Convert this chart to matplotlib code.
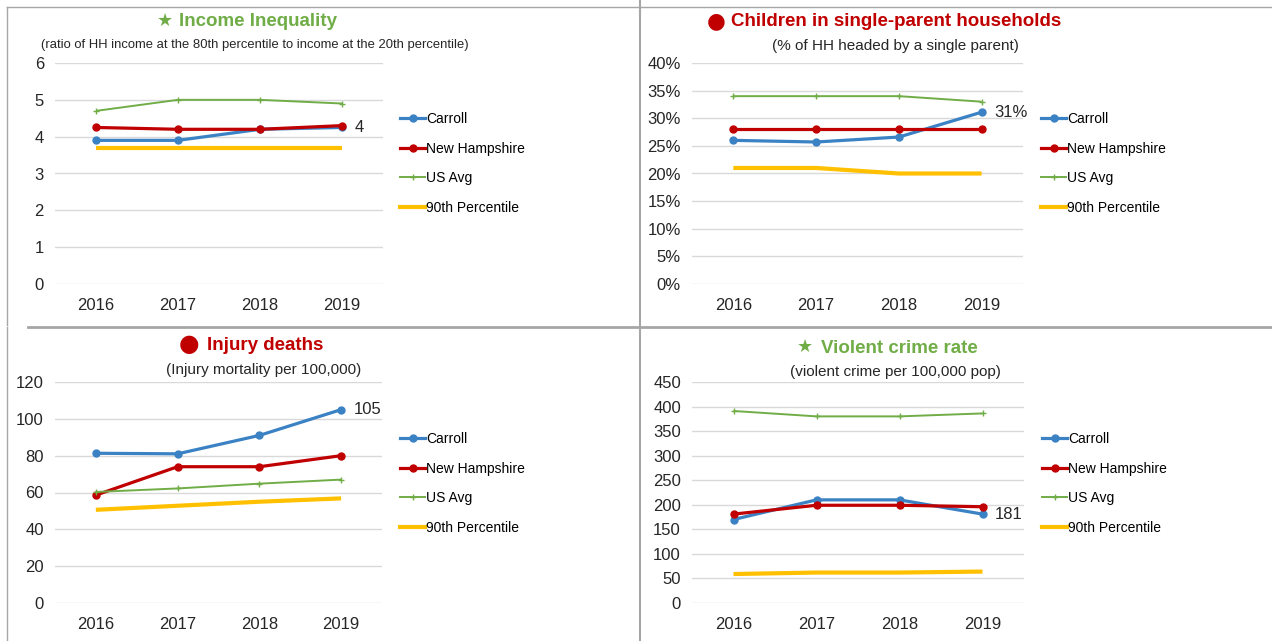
import numpy as np
import matplotlib.pyplot as plt
from matplotlib.lines import Line2D

plt.rcParams['font.family'] = ['Liberation Sans', 'DejaVu Sans']

years = ['2016', '2017', '2018', '2019']
series_names = ['Carroll', 'New Hampshire', 'US Avg', '90th Percentile']

# income inequality ratio
inc_carroll = [3.9, 3.9, 4.2, 4.25]
inc_nh = [4.25, 4.2, 4.2, 4.3]
inc_us = [4.7, 5.0, 5.0, 4.9]
inc_p90 = [3.7, 3.7, 3.7, 3.7]

# children in single-parent households (%)
sp_carroll = [26.0, 25.7, 26.6, 31.1]
sp_nh = [28, 28, 28, 28]
sp_us = [34, 34, 34, 33]
sp_p90 = [21, 21, 20, 20]

# injury deaths per 100,000
inj_carroll = [81.3, 81, 91, 105]
inj_nh = [58.6, 74, 74, 80]
inj_us = [60.3, 62.2, 64.8, 67]
inj_p90 = [50.6, 52.8, 55, 56.8]

# violent crime per 100,000
vc_carroll = [170, 210, 210, 181]
vc_nh = [181, 199, 199, 196]
vc_us = [391, 380, 380, 386]
vc_p90 = [59, 62, 62, 64]

colors = ['#3B82C4', '#C00000', '#70AD47', '#FFC000']
W, H = 1272, 641

fig = plt.figure(figsize=(W / 100, H / 100), dpi=100)


def px_axes(x0, y0, x1, y1):
    return fig.add_axes([x0 / W, 1 - y1 / H, (x1 - x0) / W, (y1 - y0) / H])


def panel(box, data, ymax, ystep, title, title_color, icon, subtitle, sub_size,
          label, pct=False, title_pos=None, icon_pos=None, sub_pos=None, leg_pos=None):
    ax = px_axes(*box)
    x = np.arange(len(years))
    styles = [dict(marker='o', ms=5, lw=2.3),
              dict(marker='o', ms=5, lw=2.3),
              dict(marker='+', ms=5, lw=1.4, mew=1.0),
              dict(marker=None, lw=3.0)]
    for vals, c, st in zip(data, colors, styles):
        ax.plot(x, vals, color=c, solid_capstyle='butt', **st)
    ax.set_xlim(-0.5, 3.5)
    ax.set_ylim(0, ymax)
    ticks = np.arange(0, ymax + ystep / 2, ystep)
    ax.set_yticks(ticks)
    if pct:
        ax.set_yticklabels(['%d%%' % v for v in ticks])
    ax.set_xticks(x)
    ax.set_xticklabels(years)
    ax.tick_params(length=0, labelsize=12, colors='#262626', pad=8)
    ax.tick_params(axis='x', pad=10)
    ax.grid(axis='y', color='#D9D9D9', lw=1)
    ax.set_axisbelow(True)
    for s in ax.spines.values():
        s.set_visible(False)
    ax.annotate(label, (3, data[0][3]), xytext=(9, 0), textcoords='offset points',
                fontsize=12, color='#262626', va='center', ha='left')
    # title, icon & subtitle (figure pixel coordinates)
    tx, ty = title_pos
    fig.text(tx / W, 1 - ty / H, title, color=title_color,
             fontsize=13.5, fontweight='bold', ha='left', va='center')
    ix, iy, isz = icon_pos
    fig.text(ix / W, 1 - iy / H, icon, color=title_color, fontsize=isz,
             ha='center', va='center', family=['DejaVu Sans'])
    sx, sy = sub_pos
    fig.text(sx / W, 1 - sy / H, subtitle, color='#262626', fontsize=sub_size,
             ha='center', va='center')
    handles = [Line2D([], [], color=c, **st) for c, st in zip(colors, styles)]
    lx, ly = leg_pos
    fig.legend(handles, series_names, loc='upper left',
               bbox_to_anchor=(lx / W, 1 - ly / H), frameon=False,
               fontsize=10, handlelength=1.8, handletextpad=0.1,
               labelspacing=1.12, borderaxespad=0, borderpad=0)
    return ax


panel((55, 63, 383, 284), [inc_carroll, inc_nh, inc_us, inc_p90], 6, 1,
      'Income Inequality', '#70AD47', '\u2605',
      '(ratio of HH income at the 80th percentile to income at the 20th percentile)', 9.4,
      '4', title_pos=(179, 22), icon_pos=(165, 21, 13), sub_pos=(255, 45),
      leg_pos=(400, 112))

panel((692, 63, 1023, 284), [sp_carroll, sp_nh, sp_us, sp_p90], 40, 5,
      'Children in single-parent households', '#C00000', '\u25CF',
      '(% of HH headed by a single parent)', 11,
      '31%', pct=True, title_pos=(731, 22), icon_pos=(716, 21, 15.5), sub_pos=(895, 46),
      leg_pos=(1041, 112))

panel((55, 382, 382, 603), [inj_carroll, inj_nh, inj_us, inj_p90], 120, 20,
      'Injury deaths', '#C00000', '\u25CF',
      '(Injury mortality per 100,000)', 11,
      '105', title_pos=(207, 346), icon_pos=(189, 344, 17), sub_pos=(264, 370),
      leg_pos=(400, 432))

panel((692, 382, 1024, 603), [vc_carroll, vc_nh, vc_us, vc_p90], 450, 50,
      'Violent crime rate', '#70AD47', '\u2605',
      '(violent crime per 100,000 pop)', 11,
      '181', title_pos=(821, 348), icon_pos=(805, 347, 13), sub_pos=(895, 372),
      leg_pos=(1042, 432))

# panel frames
frame = fig.add_axes([0, 0, 1, 1], zorder=-1)
frame.set_xlim(0, W)
frame.set_ylim(H, 0)
frame.axis('off')
gc = '#A6A6A6'
frame.plot([7, 640], [7, 7], color=gc, lw=1)
frame.plot([7, 7], [7, 325], color=gc, lw=1)
frame.plot([640, 640], [0, H], color=gc, lw=1.5)
frame.plot([640, 1272], [7, 7], color=gc, lw=1)
frame.plot([28, 1272], [327, 327], color=gc, lw=2)
frame.plot([7, 7], [327, H], color=gc, lw=1)

fig.savefig('out.png', dpi=100)
